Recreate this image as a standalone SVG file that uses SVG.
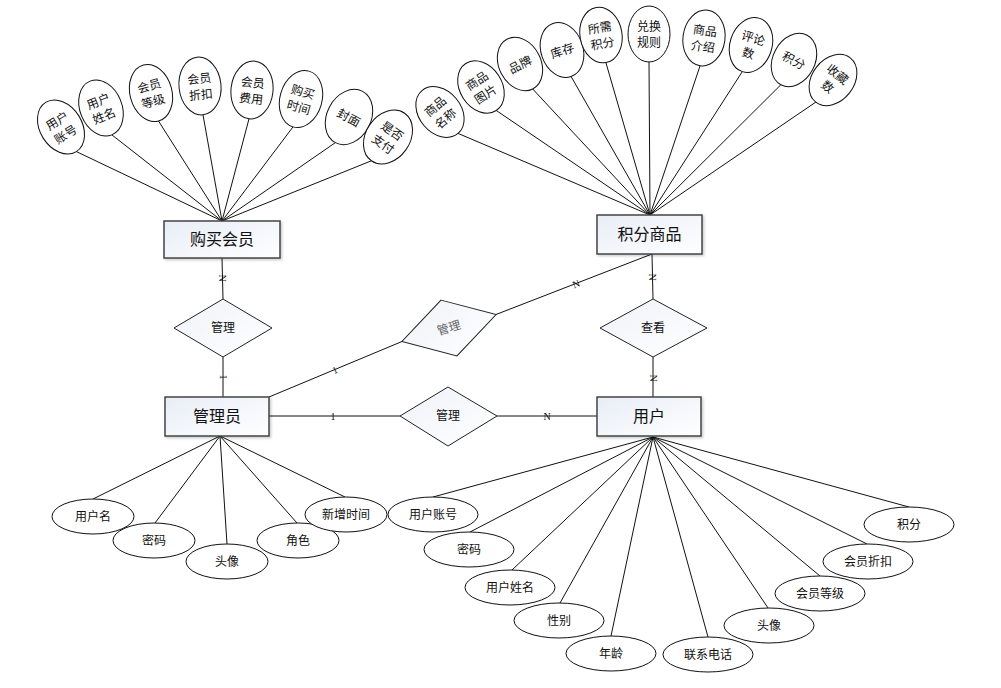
<svg xmlns="http://www.w3.org/2000/svg" width="1001" height="688" viewBox="0 0 1001 688">
<defs>
<linearGradient id="g" x1="0" y1="0" x2="1" y2="1">
<stop offset="0" stop-color="#e8edf6"/>
<stop offset="1" stop-color="#ffffff"/>
</linearGradient>
<linearGradient id="g2" x1="0" y1="0" x2="1" y2="1">
<stop offset="0" stop-color="#eef2f8"/>
<stop offset="1" stop-color="#ffffff"/>
</linearGradient>
<filter id="sh" x="-10%" y="-10%" width="130%" height="140%">
<feDropShadow dx="1.5" dy="1.5" stdDeviation="1" flood-color="#000" flood-opacity="0.2"/>
</filter>
</defs>
<style>
.ent{fill:url(#g);stroke:#444;stroke-width:1.5;filter:url(#sh)}
.rel{fill:url(#g2);stroke:#222;stroke-width:1}
.att{fill:#fff;stroke:#111;stroke-width:1}
.ln{stroke:#111;stroke-width:1;fill:none}
.t{font-family:"Noto Sans CJK SC","Liberation Sans",sans-serif;fill:#111;text-anchor:middle}
.te{font-size:16px}
.ta{font-size:12px}
.tr{font-size:12px}
.c{font-family:"Liberation Serif",serif;font-size:10px;fill:#111;text-anchor:middle}
</style>
<rect width="1001" height="688" fill="#fff"/>

<g id="connectors">
<line class="ln" x1="222" y1="221" x2="76.4" y2="151.6"/>
<line class="ln" x1="222" y1="221" x2="111.9" y2="134.9"/>
<line class="ln" x1="222" y1="221" x2="158.5" y2="121"/>
<line class="ln" x1="222" y1="221" x2="203" y2="114.9"/>
<line class="ln" x1="222" y1="221" x2="249" y2="118.8"/>
<line class="ln" x1="222" y1="221" x2="293" y2="126.9"/>
<line class="ln" x1="222" y1="221" x2="335.4" y2="142.6"/>
<line class="ln" x1="222" y1="221" x2="371.4" y2="160.8"/>
<line class="ln" x1="650" y1="215" x2="458" y2="133.4"/>
<line class="ln" x1="650" y1="215" x2="496.3" y2="110.5"/>
<line class="ln" x1="650" y1="215" x2="532.7" y2="89"/>
<line class="ln" x1="650" y1="215" x2="571.1" y2="76.5"/>
<line class="ln" x1="650" y1="215" x2="605.9" y2="62.6"/>
<line class="ln" x1="650" y1="215" x2="649" y2="62"/>
<line class="ln" x1="650" y1="215" x2="700.1" y2="65.7"/>
<line class="ln" x1="650" y1="215" x2="742.3" y2="71.6"/>
<line class="ln" x1="650" y1="215" x2="780.9" y2="84.7"/>
<line class="ln" x1="650" y1="215" x2="815.8" y2="102.1"/>
<line class="ln" x1="220" y1="436" x2="93" y2="499"/>
<line class="ln" x1="220" y1="436" x2="155" y2="523"/>
<line class="ln" x1="220" y1="436" x2="227" y2="544"/>
<line class="ln" x1="220" y1="436" x2="297" y2="523"/>
<line class="ln" x1="220" y1="436" x2="345" y2="497"/>
<line class="ln" x1="653" y1="437" x2="433" y2="497"/>
<line class="ln" x1="653" y1="437" x2="470" y2="532"/>
<line class="ln" x1="653" y1="437" x2="512" y2="570"/>
<line class="ln" x1="653" y1="437" x2="560" y2="603"/>
<line class="ln" x1="653" y1="437" x2="611" y2="636"/>
<line class="ln" x1="653" y1="437" x2="708" y2="637"/>
<line class="ln" x1="653" y1="437" x2="768" y2="608"/>
<line class="ln" x1="653" y1="437" x2="820" y2="576"/>
<line class="ln" x1="653" y1="437" x2="867" y2="544"/>
<line class="ln" x1="653" y1="437" x2="909" y2="507"/>
<line class="ln" x1="222" y1="258" x2="223" y2="299"/>
<line class="ln" x1="223" y1="357" x2="223" y2="397"/>
<line class="ln" x1="652" y1="254" x2="653" y2="299"/>
<line class="ln" x1="653" y1="357" x2="653" y2="397"/>
<line class="ln" x1="652" y1="254" x2="496" y2="314.5"/>
<line class="ln" x1="269" y1="397" x2="402" y2="341.5"/>
<line class="ln" x1="269" y1="416" x2="400" y2="416"/>
<line class="ln" x1="497" y1="416" x2="597" y2="416"/>
<text class="c" transform="translate(222,278) rotate(90)" dy="3.5">N</text>
<text class="c" transform="translate(223,377) rotate(90)" dy="3.5">1</text>
<text class="c" transform="translate(652,277) rotate(90)" dy="3.5">N</text>
<text class="c" transform="translate(653,378) rotate(90)" dy="3.5">N</text>
<text class="c" transform="translate(576,284) rotate(-21)" dy="3.5">N</text>
<text class="c" transform="translate(335,370) rotate(-23)" dy="3.5">1</text>
<text class="c" x="333" y="419.5">1</text>
<text class="c" x="547" y="419.5">N</text>
</g>

<g id="e-buy"><rect class="ent" x="164" y="221" width="116" height="37"/><text class="t te" x="222" y="245">购买会员</text></g>
<g id="e-goods"><rect class="ent" x="597" y="215" width="105" height="39"/><text class="t te" x="649.5" y="240">积分商品</text></g>
<g id="e-admin"><rect class="ent" x="165" y="397" width="104" height="39"/><text class="t te" x="217" y="422">管理员</text></g>
<g id="e-user"><rect class="ent" x="597" y="397" width="104" height="39"/><text class="t te" x="649" y="422">用户</text></g>

<g id="r-manage1"><polygon class="rel" points="223,299 272,328 223,357 174,328"/><text class="t tr" x="223" y="332">管理</text></g>
<g id="r-manage2" transform="translate(449,328) rotate(-16)"><polygon class="rel" points="0,-29 49,0 0,29 -49,0"/><text class="t tr" x="0" y="4" style="fill:#666">管理</text></g>
<g id="r-manage3"><polygon class="rel" points="448,387 497,416 448,446 400,416"/><text class="t tr" x="448" y="420">管理</text></g>
<g id="r-view"><polygon class="rel" points="653,299 707,328 653,357 600,328"/><text class="t tr" x="653" y="332">查看</text></g>

<g id="a-buy-1" transform="translate(61,127) rotate(-32)"><ellipse class="att" rx="21" ry="29"/><text class="t ta" y="-3">用户</text><text class="t ta" y="13">账号</text></g>
<g id="a-buy-2" transform="translate(101,108) rotate(-22)"><ellipse class="att" rx="21" ry="29"/><text class="t ta" y="-3">用户</text><text class="t ta" y="13">姓名</text></g>
<g id="a-buy-3" transform="translate(151,93) rotate(-15)"><ellipse class="att" rx="21" ry="29"/><text class="t ta" y="-3">会员</text><text class="t ta" y="13">等级</text></g>
<g id="a-buy-4" transform="translate(200,86) rotate(-6)"><ellipse class="att" rx="21" ry="29"/><text class="t ta" y="-3">会员</text><text class="t ta" y="13">折扣</text></g>
<g id="a-buy-5" transform="translate(252,90) rotate(6)"><ellipse class="att" rx="21" ry="29"/><text class="t ta" y="-3">会员</text><text class="t ta" y="13">费用</text></g>
<g id="a-buy-6" transform="translate(301,99) rotate(16)"><ellipse class="att" rx="21" ry="29"/><text class="t ta" y="-3">购买</text><text class="t ta" y="13">时间</text></g>
<g id="a-buy-7" transform="translate(349,117) rotate(28)"><ellipse class="att" rx="22" ry="29"/><text class="t ta" y="5">封面</text></g>
<g id="a-buy-8" transform="translate(388,137) rotate(35)"><ellipse class="att" rx="22" ry="29"/><text class="t ta" y="-3">是否</text><text class="t ta" y="13">支付</text></g>

<g id="a-goods-1" transform="translate(440,112) rotate(-40)"><ellipse class="att" rx="21" ry="28"/><text class="t ta" y="-3">商品</text><text class="t ta" y="13">名称</text></g>
<g id="a-goods-2" transform="translate(481,87) rotate(-33)"><ellipse class="att" rx="21" ry="28"/><text class="t ta" y="-3">商品</text><text class="t ta" y="13">图片</text></g>
<g id="a-goods-3" transform="translate(520,64) rotate(-27)"><ellipse class="att" rx="21" ry="28"/><text class="t ta" y="5">品牌</text></g>
<g id="a-goods-4" transform="translate(562,50) rotate(-19)"><ellipse class="att" rx="21" ry="28"/><text class="t ta" y="5">库存</text></g>
<g id="a-goods-5" transform="translate(601,35) rotate(-10)"><ellipse class="att" rx="21" ry="28"/><text class="t ta" y="-3">所需</text><text class="t ta" y="13">积分</text></g>
<g id="a-goods-6" transform="translate(649,34)"><ellipse class="att" rx="21" ry="28"/><text class="t ta" y="-3">兑换</text><text class="t ta" y="13">规则</text></g>
<g id="a-goods-7" transform="translate(704,38) rotate(8)"><ellipse class="att" rx="21" ry="28"/><text class="t ta" y="-3">商品</text><text class="t ta" y="13">介绍</text></g>
<g id="a-goods-8" transform="translate(751,45) rotate(18)"><ellipse class="att" rx="21" ry="28"/><text class="t ta" y="-3">评论</text><text class="t ta" y="13">数</text></g>
<g id="a-goods-9" transform="translate(794,60) rotate(28)"><ellipse class="att" rx="21" ry="28"/><text class="t ta" y="5">积分</text></g>
<g id="a-goods-10" transform="translate(833,80) rotate(38)"><ellipse class="att" rx="21" ry="28"/><text class="t ta" y="-3">收藏</text><text class="t ta" y="13">数</text></g>

<g id="a-admin-1"><ellipse class="att" cx="93" cy="516.5" rx="41" ry="17.5"/><text class="t ta" x="93" y="521">用户名</text></g>
<g id="a-admin-2"><ellipse class="att" cx="154" cy="540.5" rx="41" ry="17.5"/><text class="t ta" x="154" y="545">密码</text></g>
<g id="a-admin-3"><ellipse class="att" cx="227" cy="561.5" rx="41" ry="17.5"/><text class="t ta" x="227" y="566">头像</text></g>
<g id="a-admin-4"><ellipse class="att" cx="298" cy="540.5" rx="41" ry="17.5"/><text class="t ta" x="298" y="545">角色</text></g>
<g id="a-admin-5"><ellipse class="att" cx="346" cy="514.5" rx="41" ry="17.5"/><text class="t ta" x="346" y="519">新增时间</text></g>

<g id="a-user-1"><ellipse class="att" cx="433" cy="514.5" rx="45" ry="17.5"/><text class="t ta" x="433" y="519">用户账号</text></g>
<g id="a-user-2"><ellipse class="att" cx="469" cy="549.5" rx="45" ry="17.5"/><text class="t ta" x="469" y="554">密码</text></g>
<g id="a-user-3"><ellipse class="att" cx="510" cy="587.5" rx="45" ry="17.5"/><text class="t ta" x="510" y="592">用户姓名</text></g>
<g id="a-user-4"><ellipse class="att" cx="559" cy="620.5" rx="45" ry="17.5"/><text class="t ta" x="559" y="625">性别</text></g>
<g id="a-user-5"><ellipse class="att" cx="611" cy="653.5" rx="45" ry="17.5"/><text class="t ta" x="611" y="658">年龄</text></g>
<g id="a-user-6"><ellipse class="att" cx="708" cy="654.5" rx="45" ry="17.5"/><text class="t ta" x="708" y="659">联系电话</text></g>
<g id="a-user-7"><ellipse class="att" cx="769" cy="625.5" rx="45" ry="17.5"/><text class="t ta" x="769" y="630">头像</text></g>
<g id="a-user-8"><ellipse class="att" cx="820" cy="593.5" rx="45" ry="17.5"/><text class="t ta" x="820" y="598">会员等级</text></g>
<g id="a-user-9"><ellipse class="att" cx="868" cy="561.5" rx="45" ry="17.5"/><text class="t ta" x="868" y="566">会员折扣</text></g>
<g id="a-user-10"><ellipse class="att" cx="909" cy="524.5" rx="45" ry="17.5"/><text class="t ta" x="909" y="529">积分</text></g>
</svg>
